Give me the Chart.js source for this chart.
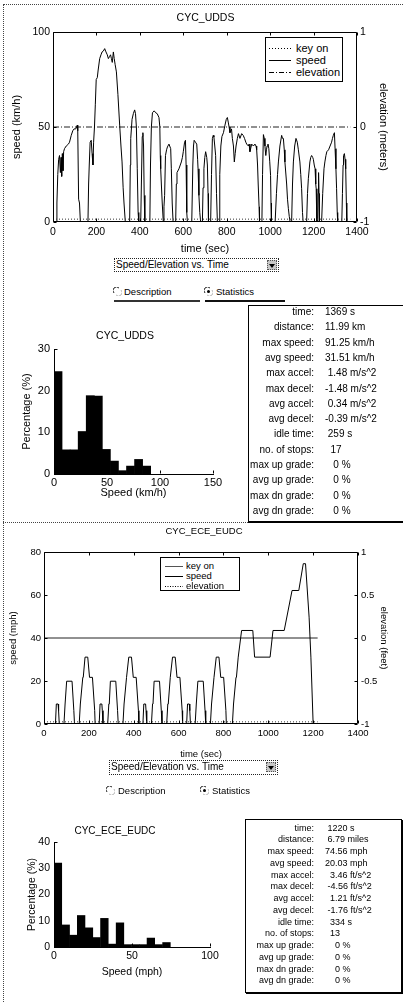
<!DOCTYPE html>
<html>
<head>
<meta charset="utf-8">
<script src="https://cdn.jsdelivr.net/npm/chart.js@4.4.1/dist/chart.umd.min.js"></script>
<style>
  html, body { margin: 0; padding: 0; background: #fff; }
  #page { position: relative; width: 403px; height: 1002px; overflow: hidden;
          font-family: "Liberation Sans", Arial, Helvetica, sans-serif; color: #000; }
  canvas { position: absolute; left: 0; }
  .dot-h { position: absolute; height: 0; border-top: 1px dotted #444; }
  .dot-v { position: absolute; width: 0; border-left: 1px dotted #444; }
  .legend { position: absolute; border: 1px solid #000; background: #fff; box-sizing: border-box; }
  .lg-row { position: absolute; left: 0; right: 0; height: 12px; line-height: 12px; white-space: nowrap; }
  .lg-row svg, .lg-row span { position: absolute; top: 0; }
  .combo { position: absolute; border: 1px dotted #222; box-sizing: border-box; font-size: 10px;
           line-height: 12px; padding-left: 1px; white-space: nowrap; }
  .combo .btn { position: absolute; right: 1px; top: 1px; width: 10px; height: 10px; background: #c8c8c8;
                border: 1px dotted #555; box-sizing: border-box; }
  .radio { position: absolute; font-size: 9.5px; line-height: 10px; white-space: nowrap; }
  .radio svg { position: absolute; left: 0; top: 0; }
  .radio span { position: absolute; top: 0; }
  .uline { position: absolute; height: 2px; }
  .panel { position: absolute; box-sizing: border-box; }
  .st { position: absolute; white-space: pre; }
</style>
</head>
<body>
<div id="page">
  <div class="dot-h" style="left:3px;top:4px;width:400px"></div>
  <div class="dot-v" style="left:3px;top:4px;height:998px"></div>
  <div class="dot-h" style="left:3px;top:522px;width:245px"></div>

  <canvas id="uddsCycle" width="403" height="256" style="top:0"></canvas>
  <div class="legend" style="left:265px;top:37px;width:78px;height:45px;font-size:11px">
    <div class="lg-row" style="top:4px"><svg width="22" height="12" style="left:3px"><line x1="0" y1="6.5" x2="22" y2="6.5" stroke="#000" stroke-dasharray="1 2"/></svg><span style="left:30px">key on</span></div>
    <div class="lg-row" style="top:16px"><svg width="22" height="12" style="left:3px"><line x1="0" y1="6.5" x2="22" y2="6.5" stroke="#000"/></svg><span style="left:30px">speed</span></div>
    <div class="lg-row" style="top:28px"><svg width="22" height="12" style="left:3px"><line x1="0" y1="6.5" x2="22" y2="6.5" stroke="#000" stroke-dasharray="5 2 1 2"/></svg><span style="left:30px">elevation</span></div>
  </div>

  <div class="combo" style="left:114px;top:258px;width:165px;height:14px">Speed/Elevation vs. Time<span class="btn"><svg width="8" height="8"><path d="M1 2 L7 2 L4 6 Z" fill="#000"/></svg></span></div>
  <div class="radio" style="left:113px;top:287px"><svg width="9" height="9"><path d="M1 6 A3.5 3.5 0 0 1 6 1" stroke="#222" fill="none"/><path d="M8 3 A3.5 3.5 0 0 1 3 8" stroke="#bbb" fill="none"/></svg><span style="left:11px">Description</span></div>
  <div class="radio" style="left:204px;top:287px"><svg width="9" height="9"><path d="M1 6 A3.5 3.5 0 0 1 6 1" stroke="#222" fill="none"/><path d="M8 3 A3.5 3.5 0 0 1 3 8" stroke="#bbb" fill="none"/><circle cx="4.5" cy="4.5" r="1.5" fill="#000"/></svg><span style="left:12px">Statistics</span></div>
  <div class="uline" style="left:114px;top:300px;width:86px;background:#333"></div>
  <div class="uline" style="left:205px;top:300px;width:80px;background:#111"></div>

  <canvas id="uddsHist" width="250" height="175" style="top:325px"></canvas>
  <div class="panel" id="uddsPanel" style="left:248px;top:305px;width:160px;height:218px;border-left:1px solid #000;border-top:1px solid #000;border-bottom:2px solid #000"></div>

  <canvas id="eceCycle" width="403" height="242" style="top:518px"></canvas>
  <div class="legend" style="left:160px;top:557px;width:80px;height:34px;font-size:9.5px">
    <div class="lg-row" style="top:2px"><svg width="18" height="12" style="left:4px"><line x1="0" y1="6.5" x2="18" y2="6.5" stroke="#555"/></svg><span style="left:25px">key on</span></div>
    <div class="lg-row" style="top:12px"><svg width="18" height="12" style="left:4px"><line x1="0" y1="6.5" x2="18" y2="6.5" stroke="#000"/></svg><span style="left:25px">speed</span></div>
    <div class="lg-row" style="top:22px"><svg width="18" height="12" style="left:4px"><line x1="0" y1="6.5" x2="18" y2="6.5" stroke="#000" stroke-dasharray="1 1.5"/></svg><span style="left:25px">elevation</span></div>
  </div>

  <div class="combo" style="left:109px;top:760px;width:169px;height:15px">Speed/Elevation vs. Time<span class="btn"><svg width="8" height="8"><path d="M1 2 L7 2 L4 6 Z" fill="#000"/></svg></span></div>
  <div class="radio" style="left:106px;top:786px"><svg width="9" height="9"><path d="M1 6 A3.5 3.5 0 0 1 6 1" stroke="#222" fill="none"/><path d="M8 3 A3.5 3.5 0 0 1 3 8" stroke="#bbb" fill="none"/></svg><span style="left:12px">Description</span></div>
  <div class="radio" style="left:200px;top:786px"><svg width="9" height="9"><path d="M1 6 A3.5 3.5 0 0 1 6 1" stroke="#222" fill="none"/><path d="M8 3 A3.5 3.5 0 0 1 3 8" stroke="#bbb" fill="none"/><circle cx="4.5" cy="4.5" r="1.5" fill="#000"/></svg><span style="left:12px">Statistics</span></div>

  <canvas id="eceHist" width="230" height="160" style="top:818px"></canvas>
  <div class="panel" style="left:245px;top:819px;width:157px;height:174px;border:1px solid #000;box-shadow:1px 1px 0 #000"></div>
</div>

<script>
// UDDS drive cycle, speed in km/h
const uddsTime = [0, 15, 18, 22, 26, 30, 34, 37, 40, 43, 46, 49, 53, 61, 71, 76, 84, 91, 97, 105,
  112, 114, 118, 122, 126, 161, 164, 167, 171, 176, 180, 184, 187, 191, 195, 199, 204, 208, 215, 221,
  226, 232, 238, 244, 250, 255, 260, 265, 269, 273, 278, 282, 286, 292, 299, 307, 313, 318, 323, 327,
  333, 353, 356, 358, 364, 370, 376, 380, 384, 388, 392, 395, 404, 407, 411, 414, 417, 420, 423, 446,
  449, 453, 458, 466, 473, 480, 488, 492, 494, 496, 499, 503, 508, 511, 514, 518, 523, 527, 534, 542,
  545, 549, 553, 565, 568, 571, 580, 591, 596, 600, 606, 610, 613, 616, 619, 639, 644, 647, 650, 656,
  662, 666, 668, 672, 676, 680, 688, 691, 695, 699, 703, 708, 711, 714, 716, 726, 730, 734, 738, 741,
  745, 749, 753, 757, 765, 768, 773, 778, 785, 792, 798, 803, 807, 811, 815, 822, 826, 831, 835, 839,
  843, 849, 854, 861, 869, 876, 882, 888, 892, 900, 903, 907, 911, 915, 923, 930, 935, 938, 942, 945,
  949, 951, 962, 965, 969, 973, 976, 980, 983, 986, 990, 994, 998, 1002, 1004, 1006, 1023, 1029, 1034, 1038,
  1045, 1053, 1057, 1061, 1065, 1068, 1076, 1080, 1084, 1088, 1092, 1099, 1103, 1107, 1113, 1119, 1125, 1130, 1137, 1141,
  1145, 1149, 1152, 1168, 1172, 1176, 1183, 1187, 1191, 1196, 1199, 1203, 1207, 1210, 1212, 1215, 1219, 1221, 1223, 1225,
  1227, 1237, 1242, 1248, 1252, 1257, 1261, 1269, 1276, 1283, 1287, 1291, 1296, 1299, 1303, 1306, 1309, 1311, 1330, 1333,
  1336, 1338, 1342, 1345, 1348, 1351, 1353, 1369];
const uddsSpeed = [0, 0, 10, 25, 33, 35, 26, 34, 24, 36, 27, 37, 38.6, 40, 41, 42, 45.6, 48, 49, 49,
  51, 48, 12, 10, 0, 0, 20, 30, 42, 43, 36, 30, 42, 50, 62, 75, 76, 80, 86, 88,
  89.5, 90, 91.25, 89.5, 88, 86, 87, 88, 86, 84, 89.5, 86, 83, 79, 67, 51, 40, 31.6, 18, 10,
  0, 0, 30, 44, 54, 57, 59, 57, 50, 28, 5, 0, 0, 20, 45, 47, 40, 14, 0, 0,
  30, 50, 57.5, 58.5, 57.5, 57, 55, 50, 35, 28, 20, 10, 0, 8, 14, 35, 38, 39.5, 41, 38.6,
  28, 10, 0, 0, 20, 26, 28, 31.6, 34, 37, 42, 43, 30, 5, 0, 0, 30, 40, 43, 42,
  41, 33, 28, 14, 5, 0, 0, 18, 28, 34, 37, 34, 30, 15, 0, 0, 25, 44, 45.6, 44.7,
  40, 35, 15, 0, 0, 25, 40, 45, 47, 51, 54, 55, 52.6, 50, 47, 49, 44, 40, 31.6, 36,
  40, 44, 46.5, 44, 46.5, 45.6, 44, 42, 41, 40, 41, 37, 39, 41, 40, 41, 40, 38, 30, 20,
  8, 0, 0, 25, 46, 44, 40, 35, 38, 40, 41, 38.6, 32, 24.5, 10, 0, 0, 15, 25, 31.6,
  40, 45.6, 44, 44, 38, 31.6, 20, 12, 7, 3, 0, 0, 20, 31.6, 40, 44, 42, 38, 31.6, 25,
  17.5, 5, 0, 0, 15, 23, 31.6, 34, 35, 34, 33, 30, 28, 20, 17.5, 0, 0, 15, 26, 15,
  0, 0, 15, 28, 31.6, 35, 37, 38, 40, 42, 44, 45.6, 47, 38.6, 28, 17.5, 5, 0, 0, 15,
  30, 35, 36, 33, 28, 10, 0, 0];
const uddsKeyOnTime = [0, 1369];
const uddsKeyOn = [1.5, 1.5];
const uddsElevTime = [0, 1369];
const uddsElev = [0, 0];

// ECE + EUDC drive cycle, speed in mph
const eceTime = [0,
  40, 51, 55, 63, 65, 68, 89, 94, 96, 101, 125, 133, 136, 157, 162, 164, 173, 175, 183, 195, 203, 216, 226, 228,
  235, 246, 250, 258, 260, 263, 284, 289, 291, 296, 320, 328, 331, 352, 357, 359, 368, 370, 378, 390, 398, 411, 421, 423,
  430, 441, 445, 453, 455, 458, 479, 484, 486, 491, 515, 523, 526, 547, 552, 554, 563, 565, 573, 585, 593, 606, 616, 618,
  625, 636, 640, 648, 650, 653, 674, 679, 681, 686, 710, 718, 721, 742, 747, 749, 758, 760, 768, 780, 788, 801, 811, 813,
  820, 840, 845, 847, 856, 858, 866, 868, 881, 931, 939, 1008, 1021, 1071, 1106, 1136, 1156, 1166, 1182, 1190, 1200, 1220];
const eceSpeed = [0,
  0, 0, 9.3, 9.3, 6.2, 0, 0, 9.3, 9.3, 19.9, 19.9, 6.2, 0, 0, 9.3, 9.3, 21.7, 21.7, 31.1, 31.1, 21.7, 21.7, 6.2, 0,
  0, 0, 9.3, 9.3, 6.2, 0, 0, 9.3, 9.3, 19.9, 19.9, 6.2, 0, 0, 9.3, 9.3, 21.7, 21.7, 31.1, 31.1, 21.7, 21.7, 6.2, 0,
  0, 0, 9.3, 9.3, 6.2, 0, 0, 9.3, 9.3, 19.9, 19.9, 6.2, 0, 0, 9.3, 9.3, 21.7, 21.7, 31.1, 31.1, 21.7, 21.7, 6.2, 0,
  0, 0, 9.3, 9.3, 6.2, 0, 0, 9.3, 9.3, 19.9, 19.9, 6.2, 0, 0, 9.3, 9.3, 21.7, 21.7, 31.1, 31.1, 21.7, 21.7, 6.2, 0,
  0, 0, 9.3, 9.3, 21.7, 21.7, 31.1, 31.1, 43.5, 43.5, 31.1, 31.1, 43.5, 43.5, 62.1, 62.1, 74.56, 74.56, 49.7, 31.1, 0, 0];
const eceKeyOnTime = [0, 1220];
const eceKeyOn = [1, 1];
const eceElevTime = [0, 1220];
const eceElev = [0, 0];

// speed histograms (bin centre, percent of time)
const uddsBinCenters = [3.8, 11.4, 19.0, 26.6, 34.2, 41.8, 49.4, 57.0, 64.6, 72.2, 79.8, 87.4];
const uddsBinPct = [24.6, 5.8, 5.8, 10.2, 18.8, 18.7, 5.9, 3.1, 0.8, 1.9, 3.5, 1.9];
const eceBinCenters = [2.5, 7.5, 12.4, 17.4, 22.4, 27.3, 32.3, 37.3, 42.3, 47.2, 52.2, 57.2, 62.1, 67.1, 72.1];
const eceBinPct = [32, 8.4, 4.5, 12, 7.3, 3.6, 10.9, 1.1, 9.2, 0.9, 0.9, 0.9, 3.4, 0.9, 1.7];

// statistics panels
const statLabels = ["time:", "distance:", "max speed:", "avg speed:", "max accel:", "max decel:",
  "avg accel:", "avg decel:", "idle time:", "no. of stops:", "max up grade:", "avg up grade:",
  "max dn grade:", "avg dn grade:"];
const uddsStats = ["1369 s", "11.99 km", "91.25 km/h", "31.51 km/h", " 1.48 m/s^2", "-1.48 m/s^2",
  " 0.34 m/s^2", "-0.39 m/s^2", " 259 s", "  17", "   0 %", "   0 %", "   0 %", "   0 %"];
const eceStats = [" 1220 s", " 6.79 miles", "74.56 mph", "20.03 mph", "  3.46 ft/s^2", " -4.56 ft/s^2",
  "  1.21 ft/s^2", " -1.76 ft/s^2", "  334 s", "  13", "    0 %", "    0 %", "    0 %", "    0 %"];

(function () {
    "use strict";

    Chart.defaults.font.family = "'Liberation Sans', Arial, Helvetica, sans-serif";
    Chart.defaults.color = "#000";

    const pts = (xs, ys) => xs.map((x, i) => ({ x: x, y: ys[i] }));
    const plain = (v) => String(v);

    // MATLAB style frame with inward tick marks
    const frameTicks = {
        id: "frameTicks",
        afterDatasetsDraw(chart, args, opts) {
            const { ctx, chartArea: a, scales } = chart;
            const len = 3;
            const L = Math.round(a.left) + 0.5, R = Math.round(a.right) - 0.5;
            const T = Math.round(a.top) + 0.5, B = Math.round(a.bottom) - 0.5;
            ctx.save();
            ctx.strokeStyle = "#000";
            ctx.lineWidth = 1;
            ctx.beginPath();
            if (opts.box) ctx.rect(L, T, R - L, B - T);
            scales.x.ticks.forEach((t) => {
                const px = Math.round(scales.x.getPixelForValue(t.value)) + 0.5;
                ctx.moveTo(px, B); ctx.lineTo(px, B - len);
                if (opts.box) { ctx.moveTo(px, T); ctx.lineTo(px, T + len); }
            });
            scales.y.ticks.forEach((t) => {
                const py = Math.round(scales.y.getPixelForValue(t.value)) + 0.5;
                ctx.moveTo(L, py); ctx.lineTo(L + len, py);
            });
            if (opts.box && scales.y2) {
                scales.y2.ticks.forEach((t) => {
                    const py = Math.round(scales.y2.getPixelForValue(t.value)) + 0.5;
                    ctx.moveTo(R, py); ctx.lineTo(R - len, py);
                });
            }
            ctx.stroke();
            ctx.restore();
        },
    };

    const noGrid = { display: false, drawTicks: false };

    function cycleChart(id, c) {
        return new Chart(document.getElementById(id), {
            type: "line",
            data: {
                datasets: [
                    { label: "key on", data: pts(c.keyOnTime, c.keyOn), borderColor: "#333", borderDash: [1, 2], yAxisID: "y" },
                    { label: "speed", data: pts(c.time, c.speed), borderColor: "#000", yAxisID: "y" },
                    { label: "elevation", data: pts(c.elevTime, c.elev), borderColor: "#222", borderDash: c.elevDash, yAxisID: "y2" },
                ],
            },
            options: {
                responsive: false,
                animation: false,
                elements: { point: { radius: 0 }, line: { borderWidth: 1, tension: 0 } },
                layout: { padding: { left: c.padLeft, top: 0, right: 0, bottom: 0 } },
                plugins: {
                    legend: { display: false },
                    tooltip: { enabled: false },
                    title: {
                        display: true, text: c.title, color: "#000",
                        font: { size: c.titleSize, weight: "normal" },
                        padding: { top: c.titleTop, bottom: c.titleBottom },
                    },
                    frameTicks: { box: true },
                },
                scales: {
                    x: {
                        type: "linear", min: 0, max: 1400,
                        grid: noGrid, border: { display: false },
                        ticks: { stepSize: 200, padding: c.xTickPad, maxRotation: 0, autoSkip: false, callback: plain, font: { size: c.tickSize } },
                        title: { display: true, text: "time (sec)", font: { size: c.labelSize }, padding: { top: c.xTitlePad, bottom: 0 } },
                        afterFit: (s) => { s.height = c.xHeight; },
                    },
                    y: {
                        position: "left", min: 0, max: c.speedMax,
                        grid: noGrid, border: { display: false },
                        ticks: { stepSize: c.speedStep, padding: 3, callback: plain, font: { size: c.tickSize } },
                        title: { display: true, text: c.speedLabel, font: { size: c.labelSize }, padding: { top: c.yTitlePad, bottom: 0 } },
                        afterFit: (s) => { s.width = c.yWidth; },
                    },
                    y2: {
                        position: "right", min: -1, max: 1,
                        grid: noGrid, border: { display: false },
                        ticks: { stepSize: c.elevStep, padding: 3, callback: plain, font: { size: c.tickSize } },
                        title: { display: true, text: c.elevLabel, font: { size: c.labelSize }, padding: { top: c.y2TitlePad, bottom: 0 } },
                        afterFit: (s) => { s.width = c.y2Width; },
                    },
                },
            },
            plugins: [frameTicks],
        });
    }

    function histChart(id, c) {
        return new Chart(document.getElementById(id), {
            type: "bar",
            data: {
                datasets: [{
                    data: pts(c.centers, c.pct),
                    backgroundColor: "#000",
                    borderWidth: 0,
                    barPercentage: 1,
                    categoryPercentage: 1,
                }],
            },
            options: {
                responsive: false,
                animation: false,
                plugins: {
                    legend: { display: false },
                    tooltip: { enabled: false },
                    title: {
                        display: true, text: c.title, color: "#000",
                        font: { size: c.titleSize, weight: "normal" },
                        padding: { top: c.titleTop, bottom: c.titleBottom },
                    },
                    frameTicks: { box: false },
                },
                scales: {
                    x: {
                        type: "linear", min: 0, max: c.xMax, offset: false,
                        grid: { display: false, drawTicks: false, offset: false },
                        border: { display: true, color: "#000", width: 1 },
                        ticks: { stepSize: 50, padding: c.xTickPad, maxRotation: 0, callback: plain, font: { size: c.tickSize } },
                        title: { display: true, text: c.xLabel, font: { size: c.labelSize }, padding: { top: c.xTitlePad, bottom: 0 } },
                        afterFit: (s) => { s.height = c.xHeight; },
                    },
                    y: {
                        position: "left", min: 0, max: c.yMax,
                        grid: noGrid,
                        border: { display: true, color: "#000", width: 1 },
                        ticks: { stepSize: 10, padding: 4, callback: plain, font: { size: c.tickSize } },
                        title: { display: true, text: "Percentage (%)", font: { size: c.labelSize }, padding: { top: c.yTitlePad, bottom: 0 } },
                        afterFit: (s) => { s.width = 54; },
                    },
                    y2: {
                        position: "right", display: true,
                        grid: noGrid, border: { display: false },
                        ticks: { display: false },
                        afterFit: (s) => { s.width = c.rightPad; },
                    },
                },
            },
            plugins: [frameTicks],
        });
    }

    cycleChart("uddsCycle", {
        title: "CYC_UDDS", titleSize: 10.5, titleTop: 11.7, titleBottom: 7.7,
        time: uddsTime, speed: uddsSpeed,
        keyOnTime: uddsKeyOnTime, keyOn: uddsKeyOn,
        elevTime: uddsElevTime, elev: uddsElev, elevDash: [6, 2, 1, 2],
        padLeft: 8, yWidth: 45, y2Width: 46, xHeight: 34,
        speedMax: 100, speedStep: 50, elevStep: 1,
        speedLabel: "speed (km/h)", elevLabel: "elevation (meters)",
        tickSize: 10.5, labelSize: 11, xTickPad: 4, xTitlePad: 2.4, yTitlePad: 2.4, y2TitlePad: 13.4,
    });

    cycleChart("eceCycle", {
        title: "CYC_ECE_EUDC", titleSize: 9.5, titleTop: 7.3, titleBottom: 15.3,
        time: eceTime, speed: eceSpeed,
        keyOnTime: eceKeyOnTime, keyOn: eceKeyOn,
        elevTime: eceElevTime, elev: eceElev, elevDash: [],
        padLeft: 5, yWidth: 39, y2Width: 45, xHeight: 36,
        speedMax: 80, speedStep: 20, elevStep: 0.5,
        speedLabel: "speed (mph)", elevLabel: "elevation (feet)",
        tickSize: 9.5, labelSize: 9.5, xTickPad: 4, xTitlePad: 5, yTitlePad: 2.3, y2TitlePad: 14,
    });

    histChart("uddsHist", {
        title: "CYC_UDDS", titleSize: 10.5, titleTop: 4.7, titleBottom: 6.7,
        centers: uddsBinCenters, pct: uddsBinPct,
        xMax: 150, yMax: 30, xLabel: "Speed (km/h)", rightPad: 37,
        tickSize: 11, labelSize: 11, xTickPad: 2, xTitlePad: 2.4, yTitlePad: 20.4, xHeight: 26,
    });

    histChart("eceHist", {
        title: "CYC_ECE_EUDC", titleSize: 10, titleTop: 7, titleBottom: 5,
        centers: eceBinCenters, pct: eceBinPct,
        xMax: 100, yMax: 40, xLabel: "Speed (mph)", rightPad: 20,
        tickSize: 10.5, labelSize: 10.5, xTickPad: 3, xTitlePad: 0.7, yTitlePad: 25.7, xHeight: 31,
    });

    // statistics text rows
    function statRows(values, firstY, pitch, size) {
        const page = document.getElementById("page");
        statLabels.forEach((label, i) => {
            const y = firstY + i * pitch - size * 0.6;
            const l = document.createElement("div");
            l.className = "st";
            l.style.cssText = `left:200px;width:114px;text-align:right;top:${y}px;font-size:${size}px;line-height:${size * 1.2}px`;
            l.textContent = label;
            const v = document.createElement("div");
            v.className = "st";
            v.style.cssText = `left:325px;top:${y}px;font-size:${size}px;line-height:${size * 1.2}px`;
            v.textContent = values[i];
            page.appendChild(l);
            page.appendChild(v);
        });
    }
    statRows(uddsStats, 312, 15.3, 10);
    statRows(eceStats, 828, 11.75, 9);
})();
</script>
</body>
</html>
